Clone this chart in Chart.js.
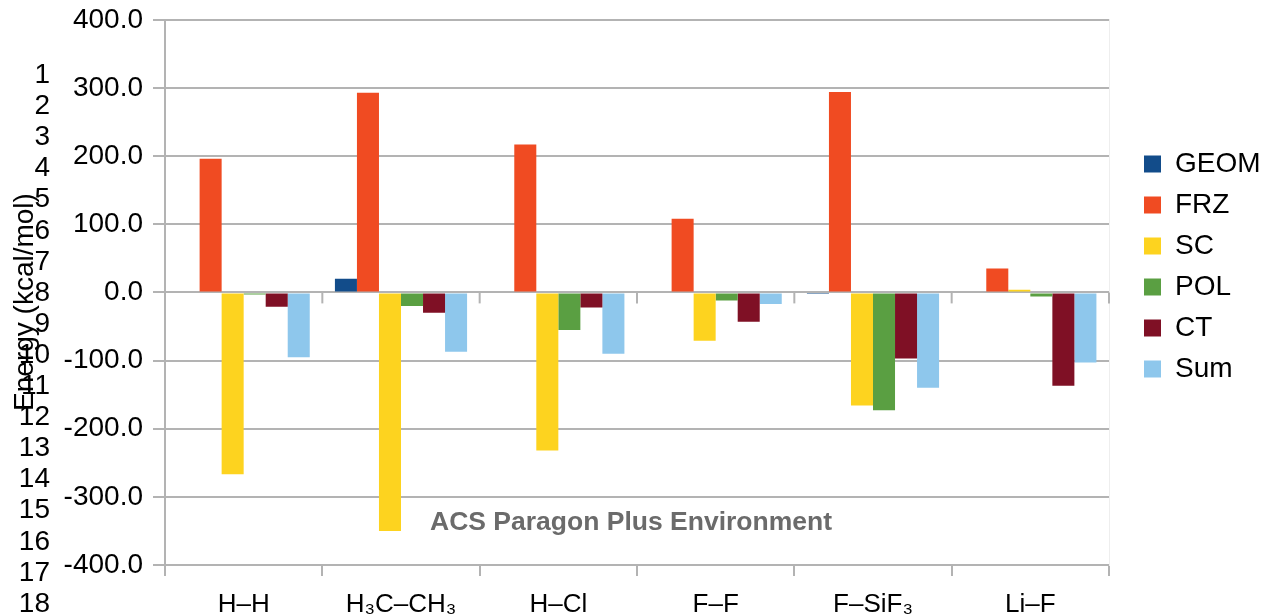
<!DOCTYPE html>
<html lang="en">
<head>
    <meta charset="UTF-8">
    <title>Energy decomposition</title>
    <script src="https://cdn.jsdelivr.net/npm/chart.js"></script>
    <style>
        body { margin: 0; background: #fff; }
        #wrap { position: relative; width: 1261px; height: 616px; overflow: hidden; font-family: "Liberation Sans", Arial, sans-serif; }
        #chart { position: absolute; left: 0; top: 0; }
        .lineno { position: absolute; width: 50px; text-align: right; font-size: 28px; line-height: 1; color: #000; transform: translateY(-50%); }
        #ytitle { position: absolute; left: 24px; top: 302px; font-size: 28px; line-height: 1; white-space: nowrap; transform: translate(-50%, -50%) rotate(-90deg); }
        #stamp { position: absolute; left: 631px; top: 521px; font-size: 26.5px; font-weight: bold; color: #6b6b6b; white-space: nowrap; line-height: 1; transform: translate(-50%, -50%); }
    </style>
</head>
<body>
<div id="wrap">
    <canvas id="chart" width="1261" height="616"></canvas>
    <div id="ytitle">Energy (kcal/mol)</div>
    <div id="stamp">ACS Paragon Plus Environment</div>
</div>
<script>
    // categories and series (kcal/mol)
    const categories = ['H–H', 'H₃C–CH₃', 'H–Cl', 'F–F', 'F–SiF₃', 'Li–F'];
    const GEOM = [0, 20, 0, 0, -1, 0];
    const FRZ = [196, 293, 217, 108, 294, 35];
    const SC = [-267, -350, -232, -71, -166, 4];
    const POL = [-3, -20, -55, -12, -173, -6];
    const CT = [-21, -30, -22, -43, -97, -137];
    const Sum = [-95, -87, -90, -17, -140, -103];
    const yTicks = [-400, -300, -200, -100, 0, 100, 200, 300, 400];

    const font = '"Liberation Sans", Arial, sans-serif';
    const gridColor = '#b3b3b3';

    // line numbers down the left margin of the manuscript page
    const wrap = document.getElementById('wrap');
    for (let n = 1; n <= 18; n++) {
        const d = document.createElement('div');
        d.className = 'lineno';
        d.style.left = '0px';
        d.style.top = (74 + 31.1 * (n - 1)) + 'px';
        d.textContent = n;
        wrap.appendChild(d);
    }

    function ds(label, data, color) {
        return { label: label, data: data, backgroundColor: color, borderColor: color, borderWidth: 0 };
    }

    // short tick marks hanging under the zero line at category boundaries
    const zeroTicks = {
        id: 'zeroTicks',
        beforeDatasetsDraw(chart) {
            const x = chart.scales.x, y = chart.scales.y, ctx = chart.ctx;
            const y0 = y.getPixelForValue(0);
            ctx.save();
            ctx.strokeStyle = gridColor;
            ctx.lineWidth = 2;
            for (let i = 1; i <= categories.length; i++) {
                const px = i < categories.length
                    ? (x.getPixelForValue(i - 1) + x.getPixelForValue(i)) / 2
                    : x.right;
                ctx.beginPath();
                ctx.moveTo(px, y0);
                ctx.lineTo(px, y0 + 11);
                ctx.stroke();
            }
            ctx.restore();
        }
    };

    // fixed legend column: width, and a box that centres the items a bit above the plot middle
    const legendBox = {
        id: 'legendBox',
        afterInit(chart) {
            const lg = chart.legend;
            const fit = lg.fit.bind(lg);
            lg.fit = function () { fit(); this.width = 130; };
        },
        afterLayout(chart) {
            const lg = chart.legend;
            lg.top = 0;
            lg.bottom = 533;
            lg.height = 533;
        }
    };

    new Chart(document.getElementById('chart'), {
        type: 'bar',
        data: {
            labels: categories,
            datasets: [
                ds('GEOM', GEOM, '#124c8a'),
                ds('FRZ', FRZ, '#f04b22'),
                ds('SC', SC, '#fdd31f'),
                ds('POL', POL, '#5a9f42'),
                ds('CT', CT, '#7f1025'),
                ds('Sum', Sum, '#8ec7ec')
            ]
        },
        options: {
            responsive: false,
            animation: false,
            datasets: { bar: { barPercentage: 1, categoryPercentage: 0.84 } },
            layout: { padding: { top: 19, left: 0, right: 0, bottom: 0 } },
            plugins: {
                tooltip: { enabled: false },
                legend: {
                    position: 'right',
                    align: 'center',
                    labels: {
                        boxWidth: 17,
                        boxHeight: 17,
                        padding: 13,
                        color: '#000',
                        font: { family: font, size: 28 }
                    }
                }
            },
            scales: {
                x: {
                    offset: true,
                    grid: { drawOnChartArea: false, color: gridColor, lineWidth: 2, tickLength: 11, offset: true },
                    border: { color: gridColor, width: 2 },
                    ticks: { color: '#000', font: { family: font, size: 26 }, padding: 13, maxRotation: 0, autoSkip: false },
                    afterFit(s) { s.height = 51; }
                },
                y: {
                    min: -400,
                    max: 400,
                    afterBuildTicks(s) { s.ticks = yTicks.map(v => ({ value: v })); },
                    grid: { color: gridColor, lineWidth: 2, tickLength: 12 },
                    border: { color: gridColor, width: 2 },
                    ticks: {
                        color: '#000',
                        font: { family: font, size: 28, lineHeight: 0.7 },
                        padding: 10,
                        callback: v => v.toFixed(1)
                    },
                    afterFit(s) { s.width = 165; }
                },
                yr: {
                    type: 'linear',
                    position: 'right',
                    grid: { display: false },
                    border: { display: true, color: '#eeeeee', width: 1 },
                    ticks: { display: false },
                    afterFit(s) { s.width = 22; }
                }
            }
        },
        plugins: [zeroTicks, legendBox]
    });
</script>
</body>
</html>
